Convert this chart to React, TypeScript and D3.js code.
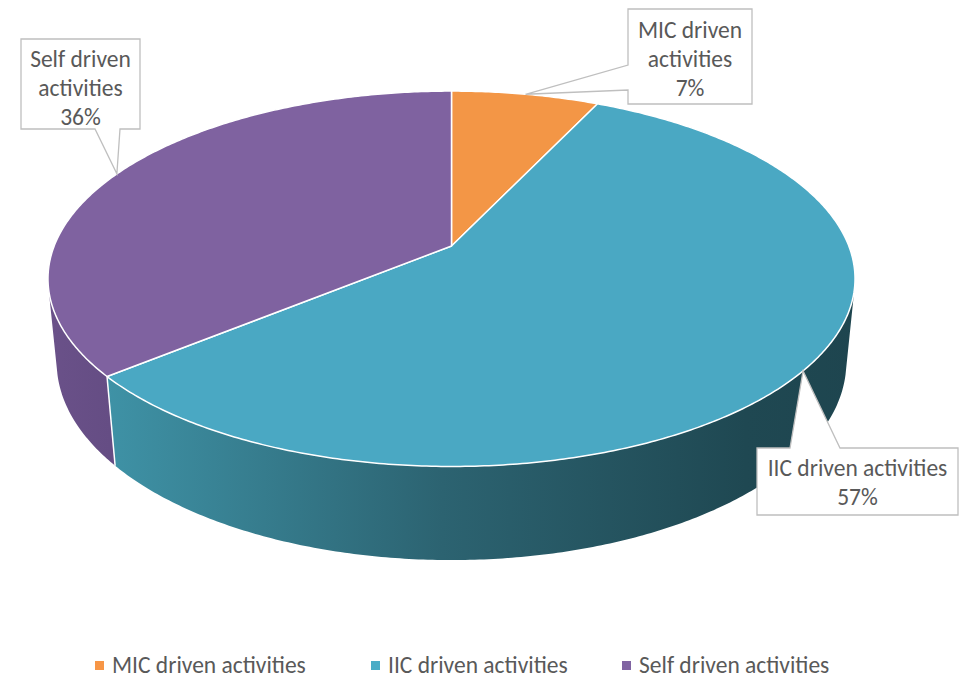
import * as d3 from 'd3';

// data
const categories = ['MIC driven activities', 'IIC driven activities', 'Self driven activities'];
const shares = [7, 57, 36];
const labelLines = [
	['MIC driven', 'activities'],
	['IIC driven activities'],
	['Self driven', 'activities'],
];

// colours
const topColors = ['#F39646', '#4AA8C3', '#7F62A0'];
const legendColors = ['#F79646', '#4BACC6', '#8064A2'];

const W = 971;
const H = 681;
const FONT = 'Carlito, Calibri, Lato, sans-serif';
const FS = 23.5;
const TEXT = '#595959';

// perspective camera for the tilted disc (camera distance D = 1)
const cx = 451.5;
const cy = 246;
const R = 0.1964;
const F = 2023;
const THICK = 0.0467;
const sinA = 0.458;
const cosA = Math.sqrt(1 - sinA * sinA);

function project(theta: number, level: number): [number, number] {
	const x = R * Math.sin(theta);
	const z = -R * Math.cos(theta);
	const y = -THICK * level;
	const d = 1 - y * sinA - z * cosA;
	return [cx + (F * x) / d, cy + (F * (z * sinA - y * cosA)) / d];
}

function arcPoints(a0: number, a1: number, level: number) {
	const n = Math.max(2, Math.ceil(Math.abs(a1 - a0) / 0.01));
	const pts: [number, number][] = [];
	for (let i = 0; i <= n; i++) pts.push(project(a0 + ((a1 - a0) * i) / n, level));
	return pts;
}

// outer wall faces the camera where cos(theta) < -R / (D cos a)
const wallLimit = Math.acos(-R / cosA);
const wallFrom = wallLimit;
const wallTo = 2 * Math.PI - wallLimit;

// callout boxes (layout only): box + pointer base on one side
const callouts = [
	{ x: 628, y: 9, w: 124, h: 95, side: 'left', b0: 65, b1: 90, lineY: [30, 59, 88] },
	{ x: 757, y: 448, w: 201, h: 67, side: 'top', b0: 790, b1: 840, lineY: [468, 497] },
	{ x: 21, y: 39, w: 119, h: 90, side: 'bottom', b0: 95, b1: 120, lineY: [59, 88, 117] },
];
const legendX = [95, 371, 622];
const legendY = 665;

function calloutPath(c: (typeof callouts)[number], tip: [number, number]) {
	const p = d3.path();
	const r = c.x + c.w;
	const b = c.y + c.h;
	if (c.side === 'left') {
		p.moveTo(c.x, c.y);
		p.lineTo(r, c.y);
		p.lineTo(r, b);
		p.lineTo(c.x, b);
		p.lineTo(c.x, c.b1);
		p.lineTo(tip[0], tip[1]);
		p.lineTo(c.x, c.b0);
	} else if (c.side === 'top') {
		p.moveTo(c.x, c.y);
		p.lineTo(c.b0, c.y);
		p.lineTo(tip[0], tip[1]);
		p.lineTo(c.b1, c.y);
		p.lineTo(r, c.y);
		p.lineTo(r, b);
		p.lineTo(c.x, b);
	} else {
		p.moveTo(c.x, c.y);
		p.lineTo(r, c.y);
		p.lineTo(r, b);
		p.lineTo(c.b1, b);
		p.lineTo(tip[0], tip[1]);
		p.lineTo(c.b0, b);
		p.lineTo(c.x, b);
	}
	p.closePath();
	return p.toString();
}

export default function App() {
	const pie = d3
		.pie<number>()
		.sort(null)
		.startAngle(0)
		.endAngle(2 * Math.PI);
	const arcs = pie(shares);
	const total = d3.sum(shares);
	const pct = (v: number) => `${Math.round((v / total) * 100)}%`;
	const line = d3.line();

	return (
		<svg width={W} height={H} style={{ position: 'absolute', left: 0, top: 0 }}>
			<defs>
				<linearGradient id="wall1" gradientUnits="userSpaceOnUse" x1={100} x2={860} y1={0} y2={0}>
					<stop offset="0" stopColor="#3F93A7" />
					<stop offset="0.45" stopColor="#2C6371" />
					<stop offset="0.85" stopColor="#1F4852" />
					<stop offset="1" stopColor="#1E454F" />
				</linearGradient>
				<linearGradient id="wall2" gradientUnits="userSpaceOnUse" x1={48} x2={110} y1={0} y2={0}>
					<stop offset="0" stopColor="#6A5189" />
					<stop offset="1" stopColor="#654D84" />
				</linearGradient>
			</defs>
			<rect width={W} height={H} fill="#fff" />

			{/* visible outer walls */}
			{arcs.map((a, i) => {
				const s = Math.max(a.startAngle, wallFrom);
				const e = Math.min(a.endAngle, wallTo);
				if (e <= s) return null;
				const pts = [...arcPoints(s, e, 0), ...arcPoints(e, s, 1)];
				return <path key={`w${i}`} d={line(pts) + 'Z'} fill={`url(#wall${i})`} />;
			})}
			{/* seams on the wall between slices */}
			{arcs.map((a, i) => {
				if (a.startAngle <= wallFrom || a.startAngle >= wallTo) return null;
				const t = project(a.startAngle, 0);
				const b = project(a.startAngle, 1);
				return <line key={`s${i}`} x1={t[0]} y1={t[1]} x2={b[0]} y2={b[1]} stroke="#fff" strokeWidth={1.5} />;
			})}

			{/* top faces */}
			{arcs.map((a, i) => {
				const pts: [number, number][] = [[cx, cy], ...arcPoints(a.startAngle, a.endAngle, 0)];
				return (
					<path
						key={`t${i}`}
						d={line(pts) + 'Z'}
						fill={topColors[i]}
						stroke="#fff"
						strokeWidth={1.5}
						strokeLinejoin="round"
					/>
				);
			})}

			{/* data callouts */}
			{arcs.map((a, i) => {
				const c = callouts[i];
				const tip = project((a.startAngle + a.endAngle) / 2, 0);
				const lines = [...labelLines[i], pct(a.data)];
				return (
					<g key={`c${i}`}>
						<path d={calloutPath(c, tip)} fill="#fff" stroke="#BFBFBF" strokeWidth={1.3} />
						{lines.map((t, j) => (
							<text
								key={j}
								x={c.x + c.w / 2}
								y={c.lineY[j]}
								textAnchor="middle"
								dominantBaseline="central"
								fontFamily={FONT}
								fontSize={FS}
								fill={TEXT}
							>
								{t}
							</text>
						))}
					</g>
				);
			})}

			{/* legend */}
			{categories.map((name, i) => (
				<g key={`l${i}`}>
					<rect x={legendX[i]} y={legendY - 4} width={9} height={9} fill={legendColors[i]} />
					<text x={legendX[i] + 17} y={legendY} dominantBaseline="central" fontFamily={FONT} fontSize={FS} fill={TEXT}>
						{name}
					</text>
				</g>
			))}
		</svg>
	);
}
